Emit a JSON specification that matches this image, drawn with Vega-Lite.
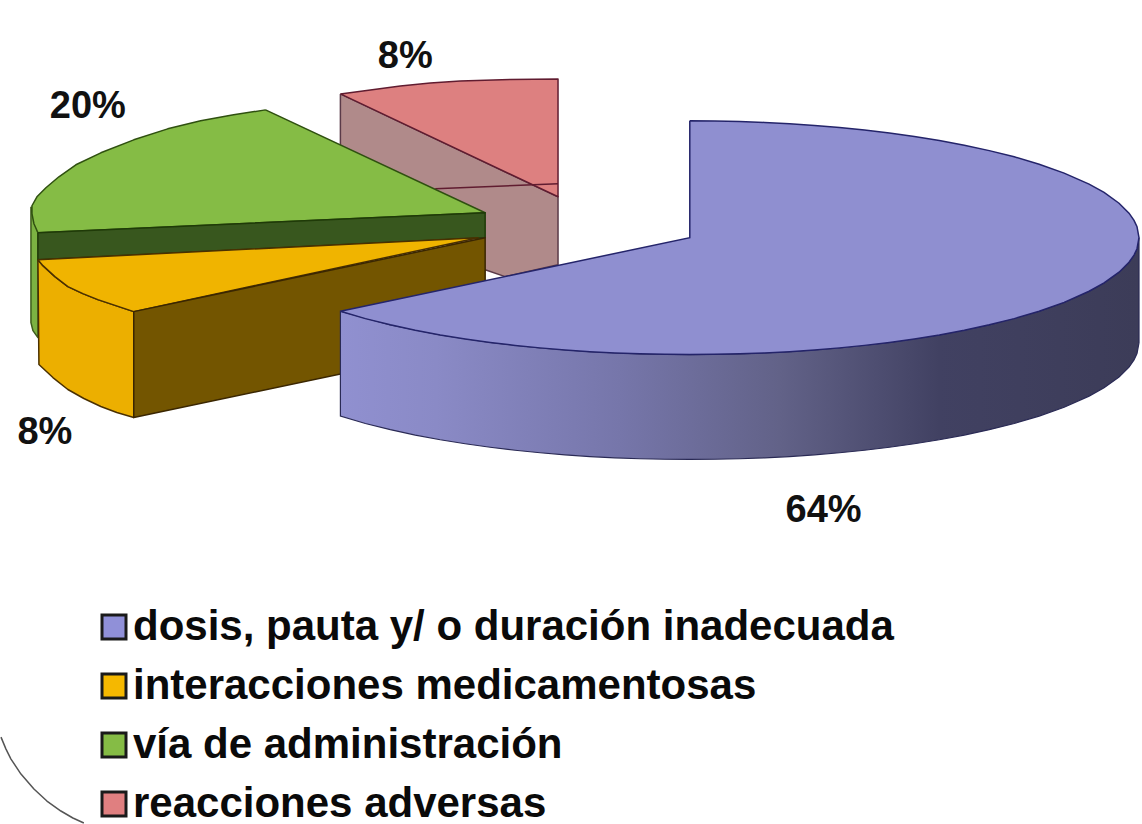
{"$schema":"https://vega.github.io/schema/vega-lite/v6.json","width":1142,"height":824,"padding":0,"autosize":{"type":"fit","contains":"padding"},"background":"white","config":{"view":{"stroke":null}},"datasets":{"slices":[{"slice":"dosis, pauta y/ o duración inadecuada","share":64,"label":"64%","lx":824,"ly":512},{"slice":"interacciones medicamentosas","share":8,"label":"8%","lx":44,"ly":434},{"slice":"vía de administración","share":20,"label":"20%","lx":87,"ly":107},{"slice":"reacciones adversas","share":8,"label":"8%","lx":405,"ly":57}],"outline":[{"part":"a curve","seq":1,"x":0,"y":738},{"part":"a curve","seq":2,"x":5,"y":750},{"part":"a curve","seq":3,"x":10,"y":760},{"part":"a curve","seq":4,"x":20,"y":775},{"part":"a curve","seq":5,"x":33,"y":790},{"part":"a curve","seq":6,"x":46,"y":802},{"part":"a curve","seq":7,"x":60,"y":812},{"part":"a curve","seq":8,"x":72,"y":819},{"part":"a curve","seq":9,"x":83,"y":824},{"part":"b pink inner","seq":1,"x":340,"y":94},{"part":"b pink inner","seq":2,"x":558,"y":197},{"part":"b pink inner","seq":3,"x":558,"y":265},{"part":"b pink inner","seq":4,"x":505,"y":277},{"part":"b pink inner","seq":5,"x":485,"y":270},{"part":"b pink inner","seq":6,"x":340,"y":170},{"part":"b pink inner","seq":7,"x":340,"y":94},{"part":"c pink top","seq":1,"x":340,"y":94},{"part":"c pink top","seq":2,"x":370,"y":90},{"part":"c pink top","seq":3,"x":400,"y":86},{"part":"c pink top","seq":4,"x":430,"y":83},{"part":"c pink top","seq":5,"x":460,"y":81},{"part":"c pink top","seq":6,"x":510,"y":79.5},{"part":"c pink top","seq":7,"x":558,"y":79},{"part":"c pink top","seq":8,"x":558,"y":197},{"part":"c pink top","seq":9,"x":340,"y":94},{"part":"d pink edge","seq":1,"x":435,"y":189},{"part":"d pink edge","seq":2,"x":558,"y":184},{"part":"e green side","seq":1,"x":30,"y":207},{"part":"e green side","seq":2,"x":37,"y":233},{"part":"e green side","seq":3,"x":37,"y":338},{"part":"e green side","seq":4,"x":32,"y":331},{"part":"e green side","seq":5,"x":30,"y":323},{"part":"e green side","seq":6,"x":30,"y":207},{"part":"f green top","seq":1,"x":265,"y":110},{"part":"f green top","seq":2,"x":233,"y":115},{"part":"f green top","seq":3,"x":200,"y":121},{"part":"f green top","seq":4,"x":167,"y":129},{"part":"f green top","seq":5,"x":133,"y":140},{"part":"f green top","seq":6,"x":100,"y":153},{"part":"f green top","seq":7,"x":75,"y":165},{"part":"f green top","seq":8,"x":58,"y":177},{"part":"f green top","seq":9,"x":45,"y":188},{"part":"f green top","seq":10,"x":36,"y":197},{"part":"f green top","seq":11,"x":31,"y":206},{"part":"f green top","seq":12,"x":31,"y":214},{"part":"f green top","seq":13,"x":33,"y":224},{"part":"f green top","seq":14,"x":37,"y":233},{"part":"f green top","seq":15,"x":485,"y":213},{"part":"f green top","seq":16,"x":265,"y":110},{"part":"g green inner","seq":1,"x":37,"y":233},{"part":"g green inner","seq":2,"x":485,"y":213},{"part":"g green inner","seq":3,"x":485,"y":238},{"part":"g green inner","seq":4,"x":37,"y":260},{"part":"g green inner","seq":5,"x":37,"y":233},{"part":"h yellow side","seq":1,"x":37,"y":260},{"part":"h yellow side","seq":2,"x":42,"y":266},{"part":"h yellow side","seq":3,"x":54,"y":277},{"part":"h yellow side","seq":4,"x":67,"y":287},{"part":"h yellow side","seq":5,"x":82,"y":294},{"part":"h yellow side","seq":6,"x":97,"y":300},{"part":"h yellow side","seq":7,"x":115,"y":306},{"part":"h yellow side","seq":8,"x":133,"y":312},{"part":"h yellow side","seq":9,"x":133,"y":418},{"part":"h yellow side","seq":10,"x":116,"y":413},{"part":"h yellow side","seq":11,"x":100,"y":407},{"part":"h yellow side","seq":12,"x":83,"y":399},{"part":"h yellow side","seq":13,"x":67,"y":390},{"part":"h yellow side","seq":14,"x":52,"y":378},{"part":"h yellow side","seq":15,"x":38,"y":365},{"part":"h yellow side","seq":16,"x":37,"y":260},{"part":"i yellow top","seq":1,"x":37,"y":260},{"part":"i yellow top","seq":2,"x":42,"y":266},{"part":"i yellow top","seq":3,"x":54,"y":277},{"part":"i yellow top","seq":4,"x":67,"y":287},{"part":"i yellow top","seq":5,"x":82,"y":294},{"part":"i yellow top","seq":6,"x":97,"y":300},{"part":"i yellow top","seq":7,"x":115,"y":306},{"part":"i yellow top","seq":8,"x":133,"y":312},{"part":"i yellow top","seq":9,"x":478,"y":238},{"part":"i yellow top","seq":10,"x":37,"y":260},{"part":"j yellow inner","seq":1,"x":133,"y":312},{"part":"j yellow inner","seq":2,"x":485,"y":238},{"part":"j yellow inner","seq":3,"x":485,"y":344},{"part":"j yellow inner","seq":4,"x":133,"y":418},{"part":"j yellow inner","seq":5,"x":133,"y":312}],"blueSide":[{"seq":1,"x":1140,"y":238},{"seq":2,"x":1138,"y":249},{"seq":3,"x":1135,"y":255.4},{"seq":4,"x":1130,"y":262.6},{"seq":5,"x":1120,"y":272.5},{"seq":6,"x":1105,"y":283.3},{"seq":7,"x":1090,"y":291.6},{"seq":8,"x":1065,"y":302.7},{"seq":9,"x":1040,"y":311.6},{"seq":10,"x":990,"y":325.2},{"seq":11,"x":940,"y":335.3},{"seq":12,"x":890,"y":342.8},{"seq":13,"x":840,"y":348.3},{"seq":14,"x":790,"y":352.1},{"seq":15,"x":740,"y":354.3},{"seq":16,"x":690,"y":355},{"seq":17,"x":640,"y":354.3},{"seq":18,"x":590,"y":352.1},{"seq":19,"x":540,"y":348.3},{"seq":20,"x":490,"y":342.8},{"seq":21,"x":440,"y":335.3},{"seq":22,"x":390,"y":325.2},{"seq":23,"x":340,"y":311.6},{"seq":24,"x":340,"y":416.6},{"seq":25,"x":365,"y":424},{"seq":26,"x":390,"y":430.2},{"seq":27,"x":415,"y":435.6},{"seq":28,"x":440,"y":440.3},{"seq":29,"x":465,"y":444.3},{"seq":30,"x":490,"y":447.8},{"seq":31,"x":515,"y":450.8},{"seq":32,"x":540,"y":453.3},{"seq":33,"x":565,"y":455.4},{"seq":34,"x":590,"y":457.1},{"seq":35,"x":615,"y":458.4},{"seq":36,"x":640,"y":459.3},{"seq":37,"x":665,"y":459.8},{"seq":38,"x":690,"y":460},{"seq":39,"x":715,"y":459.8},{"seq":40,"x":740,"y":459.3},{"seq":41,"x":765,"y":458.4},{"seq":42,"x":790,"y":457.1},{"seq":43,"x":815,"y":455.4},{"seq":44,"x":840,"y":453.3},{"seq":45,"x":865,"y":450.8},{"seq":46,"x":890,"y":447.8},{"seq":47,"x":915,"y":444.3},{"seq":48,"x":940,"y":440.3},{"seq":49,"x":965,"y":435.6},{"seq":50,"x":990,"y":430.2},{"seq":51,"x":1015,"y":424},{"seq":52,"x":1040,"y":416.6},{"seq":53,"x":1065,"y":407.7},{"seq":54,"x":1090,"y":396.6},{"seq":55,"x":1105,"y":388.3},{"seq":56,"x":1120,"y":377.5},{"seq":57,"x":1130,"y":367.6},{"seq":58,"x":1135,"y":360.4},{"seq":59,"x":1138,"y":354},{"seq":60,"x":1140,"y":343},{"seq":61,"x":1140,"y":238}],"blueTop":[{"seq":1,"x":690,"y":121},{"seq":2,"x":715,"y":121.2},{"seq":3,"x":740,"y":121.7},{"seq":4,"x":765,"y":122.6},{"seq":5,"x":790,"y":123.9},{"seq":6,"x":815,"y":125.6},{"seq":7,"x":840,"y":127.7},{"seq":8,"x":865,"y":130.2},{"seq":9,"x":890,"y":133.2},{"seq":10,"x":915,"y":136.7},{"seq":11,"x":940,"y":140.7},{"seq":12,"x":965,"y":145.4},{"seq":13,"x":990,"y":150.8},{"seq":14,"x":1015,"y":157},{"seq":15,"x":1040,"y":164.4},{"seq":16,"x":1065,"y":173.3},{"seq":17,"x":1090,"y":184.4},{"seq":18,"x":1105,"y":192.7},{"seq":19,"x":1120,"y":203.5},{"seq":20,"x":1130,"y":213.4},{"seq":21,"x":1135,"y":220.6},{"seq":22,"x":1138,"y":227},{"seq":23,"x":1140,"y":238},{"seq":24,"x":1138,"y":249},{"seq":25,"x":1135,"y":255.4},{"seq":26,"x":1130,"y":262.6},{"seq":27,"x":1120,"y":272.5},{"seq":28,"x":1105,"y":283.3},{"seq":29,"x":1090,"y":291.6},{"seq":30,"x":1065,"y":302.7},{"seq":31,"x":1040,"y":311.6},{"seq":32,"x":1015,"y":319},{"seq":33,"x":990,"y":325.2},{"seq":34,"x":965,"y":330.6},{"seq":35,"x":940,"y":335.3},{"seq":36,"x":915,"y":339.3},{"seq":37,"x":890,"y":342.8},{"seq":38,"x":865,"y":345.8},{"seq":39,"x":840,"y":348.3},{"seq":40,"x":815,"y":350.4},{"seq":41,"x":790,"y":352.1},{"seq":42,"x":765,"y":353.4},{"seq":43,"x":740,"y":354.3},{"seq":44,"x":715,"y":354.8},{"seq":45,"x":690,"y":355},{"seq":46,"x":665,"y":354.8},{"seq":47,"x":640,"y":354.3},{"seq":48,"x":615,"y":353.4},{"seq":49,"x":590,"y":352.1},{"seq":50,"x":565,"y":350.4},{"seq":51,"x":540,"y":348.3},{"seq":52,"x":515,"y":345.8},{"seq":53,"x":490,"y":342.8},{"seq":54,"x":465,"y":339.3},{"seq":55,"x":440,"y":335.3},{"seq":56,"x":415,"y":330.6},{"seq":57,"x":390,"y":325.2},{"seq":58,"x":365,"y":319},{"seq":59,"x":340,"y":311.6},{"seq":60,"x":690,"y":238},{"seq":61,"x":690,"y":121}]},"layer":[{"data":{"name":"outline"},"mark":{"type":"line","strokeWidth":1.5,"strokeJoin":"round"},"encoding":{"x":{"field":"x","type":"quantitative","axis":null,"scale":{"domain":[0,1142],"nice":false,"zero":false}},"y":{"field":"y","type":"quantitative","axis":null,"scale":{"domain":[824,0],"nice":false,"zero":false}},"order":{"field":"seq","type":"quantitative"},"fill":{"field":"part","type":"nominal","legend":null,"scale":{"domain":["a curve","b pink inner","c pink top","d pink edge","e green side","f green top","g green inner","h yellow side","i yellow top","j yellow inner"],"range":["transparent","#b08a8a","#dd8080","transparent","#7cb242","#85bc45","#38571e","#ecaf00","#f0b400","#735500"]}},"stroke":{"field":"part","type":"nominal","legend":null,"scale":{"domain":["a curve","b pink inner","c pink top","d pink edge","e green side","f green top","g green inner","h yellow side","i yellow top","j yellow inner"],"range":["#555555","#5a3a48","#601c30","#601c30","#3e5c1c","#2f5010","#1f3a08","#4a3000","#4a3000","#3a2600"]}}}},{"data":{"name":"blueSide"},"mark":{"type":"line","strokeWidth":1.2,"stroke":"#2a2a55","fill":{"gradient":"linear","x1":0,"x2":1,"y1":0,"y2":0,"stops":[{"offset":0,"color":"#9090d0"},{"offset":0.12,"color":"#8a8ac6"},{"offset":0.35,"color":"#7676aa"},{"offset":0.55,"color":"#626288"},{"offset":0.75,"color":"#414162"},{"offset":1,"color":"#3c3c58"}]}},"encoding":{"x":{"field":"x","type":"quantitative"},"y":{"field":"y","type":"quantitative"},"order":{"field":"seq","type":"quantitative"}}},{"data":{"name":"blueTop"},"mark":{"type":"line","strokeWidth":1.5,"stroke":"#24246a","fill":"#8f8fd0"},"encoding":{"x":{"field":"x","type":"quantitative"},"y":{"field":"y","type":"quantitative"},"order":{"field":"seq","type":"quantitative"}}},{"data":{"name":"slices"},"mark":{"type":"point","shape":"square","filled":true,"size":0},"encoding":{"x":{"field":"lx","type":"quantitative"},"y":{"field":"ly","type":"quantitative"},"color":{"field":"slice","type":"nominal","scale":{"domain":["dosis, pauta y/ o duración inadecuada","interacciones medicamentosas","vía de administración","reacciones adversas"],"range":["#9090d8","#f5b800","#85bc45","#e07f80"]},"legend":{"title":null,"orient":"none","legendX":92,"legendY":606,"symbolType":"square","symbolSize":576,"symbolStrokeColor":"#1a1a1a","symbolStrokeWidth":3,"symbolOpacity":1,"labelFont":"Liberation Sans","labelFontWeight":"bold","labelFontSize":42,"labelColor":"#0a0a0a","labelLimit":1000,"labelOffset":-2,"rowPadding":17,"padding":0}}}},{"data":{"name":"slices"},"mark":{"type":"text","font":"Liberation Sans","fontWeight":"bold","fontSize":38,"color":"#111111","align":"center","baseline":"middle"},"encoding":{"x":{"field":"lx","type":"quantitative"},"y":{"field":"ly","type":"quantitative"},"text":{"field":"label","type":"nominal"}}}]}
